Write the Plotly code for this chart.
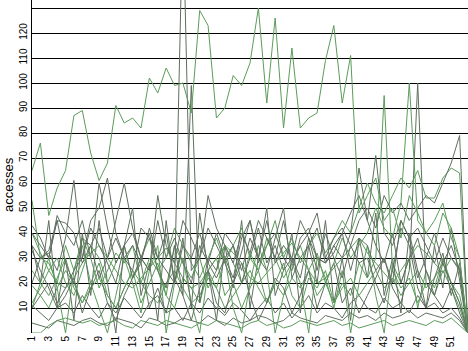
import plotly.graph_objects as go

weeks = list(range(1, 54))
tick_weeks = list(range(1, 52, 2))
y_ticks = list(range(10, 140, 10))
y_tick_text = [str(v) if v <= 120 else "" for v in y_ticks]

s01 = [65,76,47,58,65,87,89,72,61,68,91,84,86,82,102,96,106,99,100,88,129,123,86,90,103,99,108,130,92,126,82,114,82,86,88,109,123,92,111,48,55,62,45,50,38,55,48,40,45,52,38,30,0]
s02 = [35,30,33,45,44,40,28,35,22,30,38,30,25,42,38,30,40,20,170,25,30,42,35,28,20,32,45,30,25,38,50,22,30,35,42,28,32,40,25,38,35,25,30,20,45,38,22,30,40,28,35,25,0]
s03 = [43,38,30,47,40,35,45,30,60,42,28,35,22,30,40,25,18,35,15,99,12,30,25,40,35,20,30,42,28,35,25,30,45,38,25,40,30,22,35,28,30,20,12,25,42,35,18,10,22,32,15,28,0]
s04 = [25,20,15,22,30,18,12,20,28,15,10,18,25,12,20,28,15,10,22,18,12,25,30,15,20,10,18,25,12,20,28,15,10,22,18,25,12,20,15,28,22,30,95,25,18,22,12,20,15,25,18,10,0]
s05 = [20,30,32,25,38,61,30,42,35,28,20,35,40,30,25,45,30,38,28,20,35,28,40,30,22,38,45,28,35,40,30,25,38,42,30,28,35,40,48,55,45,71,40,35,45,38,42,35,28,38,30,25,0]
s06 = [53,30,28,20,35,25,38,30,18,25,32,28,35,20,30,25,15,35,28,22,30,18,25,35,28,20,32,25,38,30,22,28,35,25,32,20,28,38,30,35,40,50,42,38,52,100,45,40,35,48,42,30,0]
s07 = [33,25,18,10,15,22,8,18,25,12,5,15,22,28,10,18,8,22,15,5,18,25,12,8,20,28,15,5,12,22,18,8,15,25,10,20,28,12,18,8,15,22,30,18,12,25,100,20,15,10,18,8,0]
s08 = [40,35,30,45,28,20,38,35,42,30,45,60,42,30,25,55,35,28,45,38,30,55,42,35,28,40,32,45,38,30,45,28,35,40,48,30,38,42,35,45,50,42,55,48,52,45,50,55,52,60,68,79,0]
s09 = [12,18,25,30,20,15,25,35,30,20,28,35,22,30,38,25,30,42,35,28,22,30,38,28,35,42,30,25,35,45,30,38,28,35,40,32,38,45,40,50,60,52,48,55,62,58,65,54,54,62,66,64,0]
s10 = [10,15,20,12,18,25,30,45,50,62,40,30,35,28,42,30,25,20,35,30,40,28,22,30,35,25,38,30,45,28,35,30,22,38,30,28,35,30,40,66,45,35,28,40,20,30,38,25,15,28,20,12,0]
s11 = [19,15,10,18,25,20,12,18,22,15,10,18,25,20,15,12,20,25,18,12,15,22,18,10,15,20,25,18,12,20,15,22,18,25,15,20,12,18,22,15,20,25,18,22,15,20,25,18,22,28,20,15,0]
s12 = [11,8,5,10,12,8,15,10,6,12,8,14,10,6,12,15,8,10,5,12,8,14,10,7,12,9,5,10,14,8,12,6,10,15,8,12,10,6,12,15,10,8,14,10,12,8,15,10,12,8,10,6,0]
s13 = [0,0,3,5,6,5,4,5,3,4,5,3,2,5,4,3,5,4,3,2,4,3,5,4,3,2,4,5,3,4,2,3,5,4,3,4,5,3,4,2,3,4,5,3,4,5,4,3,5,4,6,3,0]
s14 = [4,3,2,5,4,3,5,6,4,3,6,5,4,2,6,5,3,4,6,5,4,7,5,3,6,4,5,7,6,4,5,8,6,5,4,7,6,5,8,6,7,5,8,6,7,9,6,8,7,6,8,5,0]
s15 = [10,20,30,18,0,25,35,20,10,0,15,30,20,8,25,35,0,20,30,12,0,25,18,30,10,0,20,35,25,0,15,28,20,0,30,22,10,25,0,20,35,15,0,28,20,30,10,25,18,30,20,12,0]
s16 = [35,20,45,10,30,5,40,15,45,20,0,35,50,15,28,5,45,20,38,10,48,25,5,35,18,45,10,30,50,15,25,40,8,35,20,45,12,30,5,38,22,48,15,30,8,40,25,10,35,18,42,20,0]
s17 = [40,32,25,20,18,22,28,32,35,30,25,20,18,22,26,30,34,28,22,18,20,25,30,35,32,28,22,20,24,28,32,36,30,25,20,22,26,30,34,38,32,28,24,20,25,30,35,32,28,24,30,26,0]

GREEN = "#5c9c5c"
GRAY = "#5f705f"
series = [
    (s13, GREEN), (s14, GRAY), (s12, GRAY), (s11, GREEN), (s15, GREEN),
    (s16, GRAY), (s17, GREEN), (s04, GREEN), (s07, GRAY), (s05, GRAY),
    (s06, GREEN), (s09, GREEN), (s10, GRAY), (s08, GRAY), (s03, GRAY),
    (s02, GRAY), (s01, GREEN),
]

fig = go.Figure()
for vals, col in series:
    fig.add_trace(go.Scatter(x=weeks, y=vals, mode="lines",
                             line=dict(color=col, width=1), showlegend=False,
                             hoverinfo="skip"))

fig.update_layout(
    width=468, height=351,
    margin=dict(l=32, r=0, t=0, b=18),
    paper_bgcolor="white", plot_bgcolor="white",
    font=dict(family="Liberation Sans, Arial", size=10, color="black"),
    xaxis=dict(range=[1, 53], tickvals=tick_weeks, tickangle=-90,
               showgrid=False, zeroline=False, showline=False, ticks="",
               tickfont=dict(size=10)),
    yaxis=dict(range=[0, 133.2], tickvals=y_ticks, ticktext=y_tick_text,
               tickangle=-90, showgrid=True, gridcolor="black", gridwidth=1,
               zeroline=False, showline=True, linecolor="black", linewidth=1,
               ticks="", tickfont=dict(size=10)),
    annotations=[dict(text="accesses", xref="paper", yref="paper",
                      x=(8 - 32) / 436, y=(333 - 185) / 333, textangle=-90,
                      showarrow=False, xanchor="center", yanchor="middle",
                      font=dict(size=13))],
)

fig.write_html("out.html")
